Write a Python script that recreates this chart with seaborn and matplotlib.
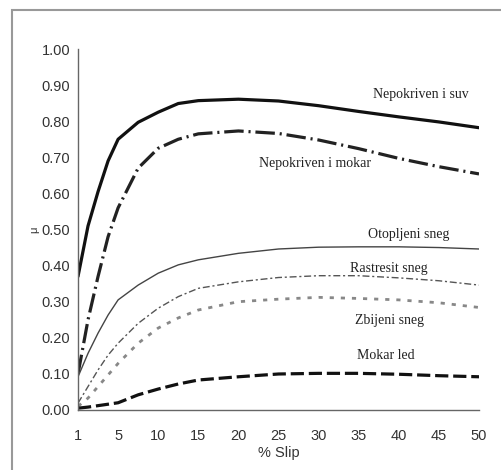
import matplotlib
matplotlib.use("Agg")
import matplotlib.pyplot as plt
import numpy as np
import pandas as pd
import seaborn as sns
from matplotlib.patches import Rectangle

# data
slip = [1, 2, 3, 4, 5, 7.5, 10, 12.5, 15, 20, 25, 30, 35, 40, 45, 50]
suv = [0.37, 0.51, 0.605, 0.69, 0.75, 0.797, 0.825, 0.849, 0.857, 0.861, 0.856, 0.843, 0.827, 0.812, 0.798, 0.782]
mokar = [0.10, 0.25, 0.37, 0.48, 0.56, 0.67, 0.725, 0.75, 0.765, 0.773, 0.766, 0.748, 0.724, 0.697, 0.674, 0.654]
otopljeni = [0.092, 0.157, 0.213, 0.263, 0.305, 0.346, 0.379, 0.402, 0.416, 0.434, 0.446, 0.451, 0.452, 0.452, 0.450, 0.446]
rastresit = [0.019, 0.065, 0.111, 0.152, 0.185, 0.24, 0.282, 0.314, 0.337, 0.355, 0.367, 0.372, 0.372, 0.366, 0.358, 0.346]
zbijeni = [0.01, 0.033, 0.065, 0.097, 0.129, 0.185, 0.227, 0.255, 0.277, 0.30, 0.307, 0.312, 0.309, 0.305, 0.297, 0.284]
mokar_led = [0.005, 0.008, 0.012, 0.016, 0.02, 0.042, 0.058, 0.072, 0.083, 0.092, 0.0997, 0.1015, 0.1015, 0.099, 0.095, 0.092]

x_ticks = [1, 5, 10, 15, 20, 25, 30, 35, 40, 45, 50]
y_ticks = [0.0, 0.1, 0.2, 0.3, 0.4, 0.5, 0.6, 0.7, 0.8, 0.9, 1.0]

labels = ["Nepokriven i suv", "Nepokriven i mokar", "Otopljeni sneg",
          "Rastresit sneg", "Zbijeni sneg", "Mokar led"]
label_x = [42.8, 29.6, 41.2, 38.7, 38.8, 38.4]
label_y = [0.874, 0.683, 0.485, 0.392, 0.247, 0.15]

df = pd.DataFrame({"slip": slip, "suv": suv, "mokar": mokar, "otopljeni": otopljeni,
                   "rastresit": rastresit, "zbijeni": zbijeni, "mokar_led": mokar_led})

sns.set_style("white")
plt.rcParams["lines.scale_dashes"] = False
plt.rcParams["font.family"] = ["Liberation Sans", "DejaVu Sans"]

fig = plt.figure(figsize=(5.02, 4.70), dpi=100)
ax = fig.add_axes([0.1554, 0.1277, 0.7988, 0.768])

# ticks 1, 5, 10 ... 50 are evenly spaced on the original axis
def forward(x):
    x = np.asarray(x, dtype=float)
    return np.where(x < 5, (x - 1) / 4, (x - 5) / 5 + 1)

def inverse(p):
    p = np.asarray(p, dtype=float)
    return np.where(p < 1, 1 + 4 * p, 5 + 5 * (p - 1))

ax.set_xscale("function", functions=(forward, inverse))

styles = [
    ("suv", "#111111", 2.3, "-"),
    ("mokar", "#222222", 2.3, (0, (14, 3.5, 1.5, 3.5))),
    ("otopljeni", "#444444", 1.0, "-"),
    ("rastresit", "#555555", 1.0, (0, (5, 2, 1.5, 2))),
    ("zbijeni", "#888888", 2.0, (0, (3, 5))),
    ("mokar_led", "#111111", 2.3, (0, (9.5, 3.5))),
]
for col, color, lw, ls in styles:
    sns.lineplot(data=df, x="slip", y=col, color=color, linewidth=lw,
                 linestyle=ls, estimator=None, sort=False, ax=ax)

for text, tx, ty in zip(labels, label_x, label_y):
    ax.text(tx, ty, text, ha="center", va="center", fontsize=10,
            family=["Liberation Serif", "DejaVu Serif"], color="#222222")

ax.set_xlim(1, 50)
ax.set_ylim(0, 1.0)
ax.set_xticks(x_ticks)
ax.set_xticklabels([str(v) for v in x_ticks])
ax.set_yticks(y_ticks)
ax.set_yticklabels([f"{v:.2f}" for v in y_ticks])
ax.set_xlabel("% Slip", fontsize=10.5, color="#333333", labelpad=2)
ax.set_ylabel("μ", fontsize=8, color="#333333", labelpad=2)

for side in ["top", "right"]:
    ax.spines[side].set_visible(False)
for side in ["left", "bottom"]:
    ax.spines[side].set_color("#666666")
    ax.spines[side].set_linewidth(1.0)
ax.tick_params(axis="both", direction="inout", length=7, width=1,
               color="#666666", labelsize=10.5, labelcolor="#333333")
ax.tick_params(axis="x", pad=10)
ax.tick_params(axis="y", pad=2)
ax.minorticks_off()

# grey frame around the picture
fig.patches.append(Rectangle((12 / 502, -0.01), 1.0, 1 - 10 / 470 + 0.01,
                             transform=fig.transFigure, fill=False,
                             edgecolor="#999999", linewidth=1.5))

fig.savefig("out.png", dpi=100)
plt.close(fig)
